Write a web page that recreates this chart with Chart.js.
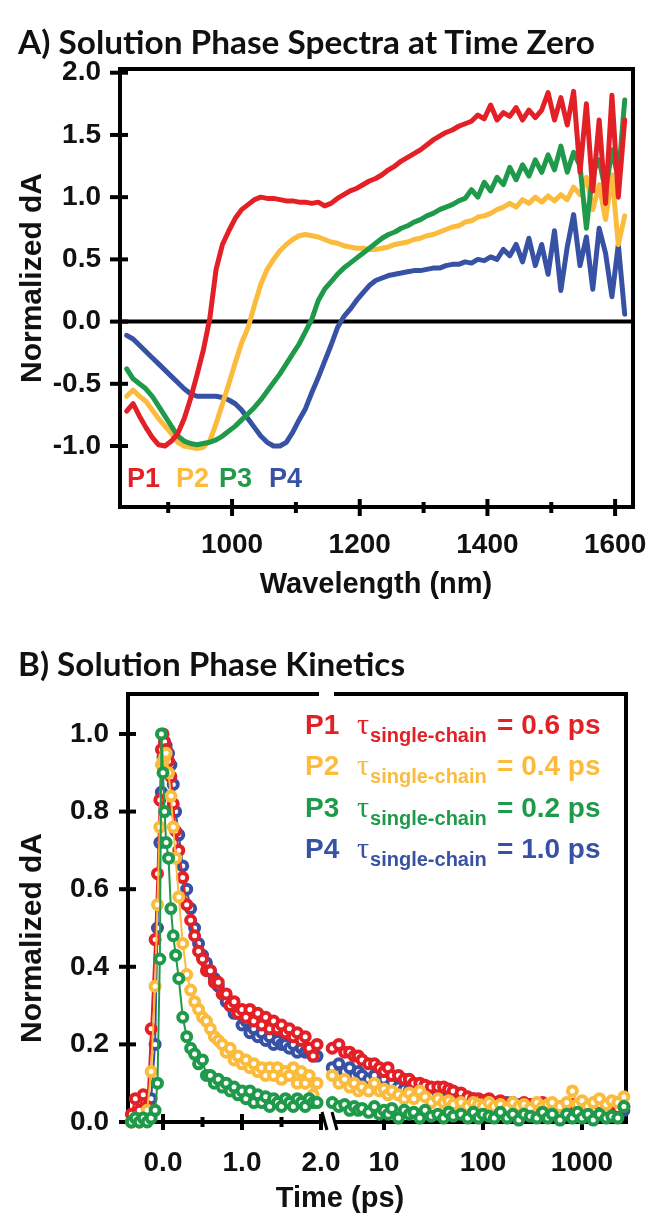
<!DOCTYPE html>
<html><head><meta charset="utf-8">
<script src="https://cdn.jsdelivr.net/npm/chart.js@4.4.1/dist/chart.umd.min.js"></script>
<style>
html,body{margin:0;padding:0;background:#fff;}
#wrap{position:relative;width:651px;height:1214px;overflow:hidden;background:#fff;}
canvas{position:absolute;}
.t{position:absolute;white-space:nowrap;line-height:1;}
.title{font-family:Lato,'Open Sans',sans-serif;font-weight:700;font-size:32px;color:#111;transform-origin:0 0;}
.ax{font-family:'Liberation Sans',Arial,sans-serif;font-weight:700;color:#111;}
.leg{font-family:'Liberation Sans',Arial,sans-serif;font-weight:700;font-size:28px;}
.lp{display:inline-block;width:52px;}
.tg{display:inline-block;width:140px;}
.tau{font-family:'Liberation Serif','DejaVu Serif',serif;font-weight:400;font-size:30px;}
.sub{font-size:20px;position:relative;top:8px;margin-left:1px;}
</style></head><body>
<div id="wrap">
<canvas id="cA" width="651" height="620" style="left:0;top:0"></canvas>
<canvas id="cB1" width="350" height="614" style="left:0;top:600px"></canvas>
<canvas id="cB2" width="351" height="614" style="left:300px;top:600px"></canvas>
<div id="tA" class="t title" style="left:18px;top:26px">A) Solution Phase Spectra at Time Zero</div>
<div id="tB" class="t title" style="left:18px;top:648px">B) Solution Phase Kinetics</div>
<div class="t ax" style="font-size:30px;left:31px;top:278px;transform:translate(-50%,-50%) rotate(-90deg);">Normalized dA</div>
<div class="t ax" style="font-size:30px;left:31px;top:938px;transform:translate(-50%,-50%) rotate(-90deg);">Normalized dA</div>
<div class="t ax" style="font-size:29px;left:376px;top:569px;transform:translateX(-50%);">Wavelength (nm)</div>
<div class="t ax" style="font-size:29px;left:340px;top:1183px;transform:translateX(-50%);">Time (ps)</div>
</div>
<script>
// ---------- Panel A data ----------
const wavelengths = [835,845,855,865,875,885,895,905,915,925,
  935,945,955,965,975,985,995,1005,1015,1025,
  1035,1045,1055,1065,1075,1085,1095,1105,1115,1125,
  1135,1145,1155,1165,1175,1185,1195,1205,1215,1225,
  1235,1245,1255,1265,1275,1285,1295,1305,1315,1325,
  1335,1345,1355,1365,1375,1385,1395,1405,1415,1425,
  1435,1445,1455,1465,1475,1485,1495,1505,1515,1525,
  1535,1545,1555,1565,1575,1585,1595,1605,1615];
const specP1 = [-0.72,-0.66,-0.76,-0.85,-0.93,-0.99,-1.0,-0.96,-0.9,-0.78,
  -0.62,-0.43,-0.23,0.02,0.42,0.62,0.73,0.83,0.9,0.94,
  0.98,1.0,0.99,0.99,0.98,0.97,0.97,0.96,0.96,0.95,
  0.96,0.93,0.95,0.99,1.02,1.05,1.07,1.1,1.13,1.15,
  1.18,1.22,1.25,1.29,1.32,1.35,1.38,1.42,1.46,1.49,
  1.52,1.54,1.57,1.59,1.61,1.66,1.63,1.74,1.62,1.68,
  1.65,1.72,1.62,1.7,1.64,1.7,1.84,1.62,1.8,1.58,
  1.85,1.2,1.75,1.05,1.62,0.95,1.82,1.0,1.62];
const specP2 = [-0.6,-0.55,-0.6,-0.64,-0.71,-0.78,-0.84,-0.9,-0.97,-1.0,
  -1.01,-1.02,-1.01,-0.96,-0.82,-0.66,-0.5,-0.33,-0.17,-0.05,
  0.13,0.3,0.42,0.5,0.57,0.62,0.66,0.69,0.7,0.69,
  0.68,0.66,0.64,0.63,0.61,0.6,0.59,0.59,0.58,0.58,
  0.59,0.6,0.62,0.63,0.64,0.66,0.67,0.69,0.7,0.72,
  0.74,0.76,0.77,0.8,0.81,0.84,0.85,0.87,0.9,0.92,
  0.95,0.92,0.98,0.95,1.0,0.96,1.01,0.97,1.02,0.98,
  1.08,1.02,1.16,0.9,1.1,0.82,1.18,0.62,0.85];
const specP3 = [-0.38,-0.46,-0.5,-0.54,-0.6,-0.68,-0.76,-0.84,-0.92,-0.96,
  -0.98,-0.99,-0.98,-0.97,-0.95,-0.92,-0.88,-0.84,-0.79,-0.74,
  -0.69,-0.63,-0.56,-0.49,-0.42,-0.34,-0.26,-0.18,-0.08,0.02,
  0.17,0.26,0.32,0.38,0.43,0.47,0.51,0.55,0.59,0.63,
  0.67,0.7,0.72,0.75,0.77,0.8,0.82,0.85,0.87,0.9,
  0.92,0.94,0.97,0.99,1.06,1.0,1.12,1.05,1.16,1.1,
  1.24,1.14,1.26,1.17,1.3,1.2,1.34,1.22,1.41,1.2,
  1.36,1.25,0.75,1.2,1.3,1.05,1.38,1.15,1.78];
const specP4 = [-0.11,-0.14,-0.19,-0.24,-0.29,-0.34,-0.39,-0.44,-0.49,-0.54,
  -0.58,-0.6,-0.6,-0.6,-0.6,-0.61,-0.63,-0.66,-0.71,-0.78,
  -0.85,-0.92,-0.97,-1.0,-1.0,-0.97,-0.89,-0.79,-0.7,-0.57,
  -0.45,-0.32,-0.19,-0.05,0.04,0.1,0.17,0.23,0.29,0.33,
  0.35,0.37,0.38,0.39,0.4,0.41,0.41,0.42,0.43,0.43,
  0.45,0.46,0.46,0.48,0.47,0.5,0.49,0.52,0.5,0.58,
  0.53,0.62,0.48,0.67,0.45,0.62,0.38,0.73,0.25,0.6,
  0.86,0.45,0.68,0.26,0.75,0.55,0.2,0.62,0.06];
const xTicksA = [1000,1200,1400,1600];
const xMinorA = [900,1100,1300,1500];
const yTicksA = [-1.0,-0.5,0.0,0.5,1.0,1.5,2.0];
const seriesNames = ['P1','P2','P3','P4'];

// ---------- Panel B data ----------
const tLin = [-0.4,-0.35,-0.3,-0.25,-0.2,-0.15,-0.1,-0.07,-0.04,-0.02,0,0.02,0.04,0.07,0.1,0.13,0.16,0.2,
  0.25,0.3,0.35,0.4,0.45,0.5,0.55,0.6,0.65,0.7,0.75,0.8,0.85,0.9,0.95,1.0,1.05,1.1,1.15,1.2,1.25,1.3,1.35,1.4,1.45,1.5,1.55,1.6,1.65,1.7,1.75,1.8,1.85,1.9,1.95];
const kinP1Lin = [0.02,0.06,0.03,0.07,0.04,0.24,0.47,0.64,0.83,0.96,1.0,0.98,0.96,0.93,0.89,0.82,0.75,0.7,
  0.63,0.56,0.52,0.48,0.44,0.42,0.39,0.39,0.36,0.36,0.33,0.33,0.3,0.31,0.28,0.29,0.27,0.29,0.26,0.28,0.25,0.27,0.24,0.26,0.24,0.25,0.23,0.24,0.22,0.23,0.21,0.22,0.19,0.17,0.2];
const kinP2Lin = [0.0,0.01,0.0,0.01,0.03,0.13,0.35,0.56,0.76,0.92,0.93,0.94,0.95,0.9,0.84,0.76,0.68,0.58,
  0.46,0.38,0.34,0.31,0.29,0.27,0.26,0.24,0.22,0.21,0.2,0.18,0.19,0.16,0.17,0.15,0.16,0.14,0.15,0.13,0.14,0.12,0.14,0.12,0.14,0.11,0.13,0.12,0.14,0.1,0.13,0.1,0.12,0.07,0.1];
const kinP3Lin = [0.0,0.01,0.0,0.01,0.0,0.01,0.03,0.1,0.42,1.0,0.9,0.8,0.72,0.68,0.55,0.48,0.43,0.37,
  0.27,0.22,0.19,0.175,0.15,0.16,0.12,0.12,0.1,0.11,0.09,0.1,0.08,0.09,0.07,0.08,0.06,0.08,0.05,0.07,0.05,0.065,0.04,0.06,0.05,0.04,0.06,0.05,0.04,0.06,0.05,0.04,0.06,0.05,0.05];
const kinP4Lin = [0.0,0.01,0.0,0.02,0.01,0.06,0.2,0.5,0.72,0.85,0.94,0.98,0.97,0.95,0.92,0.87,0.8,0.74,
  0.66,0.6,0.55,0.5,0.46,0.43,0.41,0.39,0.37,0.35,0.33,0.31,0.3,0.28,0.28,0.25,0.26,0.23,0.24,0.22,0.23,0.21,0.22,0.2,0.21,0.2,0.2,0.19,0.2,0.18,0.19,0.18,0.18,0.17,0.17];
const tLog = [3,3.5,4,4.5,5,5.5,6,7,8,9,10,11,12,14,16,18,20,23,26,30,35,40,45,50,60,70,80,90,100,
  115,130,150,175,200,230,260,300,350,400,450,500,600,700,800,900,1000,1150,1300,1500,1750,2000,2300,2650];
const kinP1Log = [0.19,0.2,0.18,0.18,0.17,0.17,0.16,0.15,0.15,0.14,0.13,0.14,0.12,0.12,0.11,0.11,0.1,0.1,0.095,0.09,0.09,0.09,0.085,0.08,0.075,0.065,0.06,0.06,0.055,
  0.06,0.05,0.055,0.045,0.05,0.04,0.05,0.045,0.04,0.05,0.04,0.045,0.04,0.035,0.045,0.04,0.03,0.04,0.035,0.045,0.03,0.04,0.035,0.04];
const kinP2Log = [0.12,0.1,0.11,0.09,0.1,0.08,0.09,0.08,0.1,0.08,0.085,0.07,0.08,0.07,0.06,0.075,0.06,0.08,0.065,0.05,0.06,0.05,0.055,0.045,0.05,0.04,0.05,0.045,0.04,
  0.05,0.04,0.045,0.035,0.05,0.04,0.045,0.035,0.05,0.04,0.045,0.05,0.04,0.05,0.08,0.045,0.055,0.04,0.05,0.06,0.045,0.055,0.05,0.065];
const kinP3Log = [0.05,0.04,0.045,0.03,0.04,0.03,0.035,0.025,0.04,0.02,0.03,0.02,0.035,0.01,0.03,0.02,0.025,0.01,0.03,0.015,0.02,0.01,0.025,0.015,0.02,0.01,0.025,0.01,0.02,
  0.015,0.01,0.025,0.01,0.02,0.005,0.02,0.015,0.01,0.025,0.01,0.02,0.005,0.02,0.01,0.025,0.01,0.02,0.005,0.02,0.01,0.015,0.01,0.04];
const kinP4Log = [0.14,0.15,0.13,0.14,0.12,0.13,0.12,0.11,0.12,0.1,0.11,0.09,0.1,0.09,0.085,0.08,0.09,0.075,0.08,0.07,0.075,0.065,0.07,0.06,0.065,0.055,0.06,0.05,0.055,
  0.045,0.05,0.04,0.05,0.04,0.045,0.035,0.045,0.04,0.035,0.045,0.03,0.04,0.035,0.03,0.04,0.035,0.03,0.04,0.03,0.035,0.03,0.04,0.03];
const tauSingleChain = [0.6,0.4,0.2,1.0];
const yTicksB = [0.0,0.2,0.4,0.6,0.8,1.0];
const xTicksBLin = [0.0,1.0,2.0];
const xMinorBLin = [0.5,1.5];
const xTicksBLog = [10,100,1000];

// ---------- styling ----------
const COLORS = {P1:'#e42027', P2:'#fbbb3d', P3:'#1f9a4a', P4:'#3752a4'};
const FONT = "'Liberation Sans', Arial, sans-serif";
const tickFont = {family: FONT, size: 28, weight: 'bold'};

function seg(ctx,x1,y1,x2,y2){ctx.beginPath();ctx.moveTo(x1,y1);ctx.lineTo(x2,y2);ctx.stroke();}

const frameA = {id:'frameA', beforeDatasetsDraw(chart){
  const {ctx, chartArea:a, scales:{x,y}} = chart;
  ctx.save(); ctx.strokeStyle='#000'; ctx.lineWidth=4;
  ctx.strokeRect(a.left, a.top, a.right-a.left, a.bottom-a.top);
  const y0 = y.getPixelForValue(0); seg(ctx,a.left,y0,a.right,y0);
  xTicksA.forEach(v=>{const p=x.getPixelForValue(v); seg(ctx,p,a.bottom-8,p,a.bottom+9);});
  xMinorA.forEach(v=>{const p=x.getPixelForValue(v); seg(ctx,p,a.bottom-5,p,a.bottom+6);});
  yTicksA.forEach(v=>{const p=y.getPixelForValue(v); seg(ctx,a.left-10,p,a.left+8,p);});
  ctx.restore();
}};
const frameB1 = {id:'frameB1', beforeDatasetsDraw(chart){
  const {ctx, chartArea:a, scales:{x,y}} = chart;
  ctx.save(); ctx.strokeStyle='#000'; ctx.lineWidth=4;
  ctx.beginPath(); ctx.moveTo(a.right-2,a.top); ctx.lineTo(a.left,a.top); ctx.lineTo(a.left,a.bottom); ctx.lineTo(a.right,a.bottom); ctx.stroke();
  yTicksB.forEach(v=>{const p=y.getPixelForValue(v); seg(ctx,a.left-9,p,a.left+8,p);});
  xTicksBLin.forEach(v=>{const p=x.getPixelForValue(v); seg(ctx,p,a.bottom-8,p,a.bottom+8);});
  xMinorBLin.forEach(v=>{const p=x.getPixelForValue(v); seg(ctx,p,a.bottom-5,p,a.bottom+5);});
  ctx.lineWidth=3; seg(ctx,a.right+1,a.bottom-10,a.right+6,a.bottom+8);
  ctx.restore();
}};
const frameB2 = {id:'frameB2', beforeDatasetsDraw(chart){
  const {ctx, chartArea:a, scales:{x}} = chart;
  ctx.save(); ctx.strokeStyle='#000'; ctx.lineWidth=4;
  ctx.beginPath(); ctx.moveTo(a.left+4,a.top); ctx.lineTo(a.right,a.top); ctx.lineTo(a.right,a.bottom); ctx.lineTo(a.left+6,a.bottom); ctx.stroke();
  xTicksBLog.forEach(v=>{const p=x.getPixelForValue(v); seg(ctx,p,a.bottom-8,p,a.bottom+8);});
  ctx.lineWidth=3; seg(ctx,a.left+2,a.bottom-10,a.left+7,a.bottom+8);
  ctx.restore();
}};

function fixedTicks(list){ return s => { s.ticks = list.map(v=>({value:v})); }; }
function fitX(h){ return s => { s.height = h; s.paddingLeft = 0; s.paddingRight = 0; }; }
function fitY(w){ return s => { s.width = w; s.paddingTop = 0; s.paddingBottom = 0; }; }
const baseOpts = {responsive:false, animation:false, devicePixelRatio:1, events:[],
  plugins:{legend:{display:false}, tooltip:{enabled:false}}};

// ---------- Chart A ----------
const specSeries = [specP1, specP2, specP3, specP4];
new Chart(document.getElementById('cA'), {
  type:'line',
  data:{datasets: seriesNames.map((n,i)=>({label:n,
    data: wavelengths.map((w,j)=>({x:w, y:specSeries[i][j]})),
    borderColor: COLORS[n], borderWidth:5, pointRadius:0, tension:0,
    borderJoinStyle:'round', borderCapStyle:'round', order: [0,2,1,3][i]}))},
  options:Object.assign({}, baseOpts, {
    layout:{padding:{top:69,right:18,bottom:53,left:0}},
    scales:{
      x:{type:'linear', min:824.5, max:1628, grid:{display:false,drawTicks:false}, border:{display:false},
         afterBuildTicks: fixedTicks(xTicksA), afterFit: fitX(60),
         ticks:{font:tickFont, color:'#111', padding:21, maxRotation:0, autoSkip:false, callback:v=>String(v)}},
      y:{type:'linear', min:-1.49, max:2.03, grid:{display:false,drawTicks:false}, border:{display:false},
         afterBuildTicks: fixedTicks(yTicksA), afterFit: fitY(120),
         ticks:{font:tickFont, color:'#111', padding:19, autoSkip:false, callback:v=>Number(v).toFixed(1)}}
    }}),
  plugins:[frameA]
});

// ---------- Chart B ----------
const kinLin = {P1:kinP1Lin, P2:kinP2Lin, P3:kinP3Lin, P4:kinP4Lin};
const kinLog = {P1:kinP1Log, P2:kinP2Log, P3:kinP3Log, P4:kinP4Log};
const drawOrderB = ['P3','P2','P1','P4']; // first = on top
function kinDatasets(times, table){
  return drawOrderB.map(n=>({label:n,
    data: times.map((t,j)=>({x:t, y:table[n][j]})),
    borderColor: COLORS[n], borderWidth:2, tension:0,
    pointRadius:4.5, pointBorderWidth:4, pointBackgroundColor:'#fff', pointBorderColor:COLORS[n],
    clip:false}));
}
function yB(show){ return {type:'linear', display:show, min:0, max:1.103, grid:{display:false,drawTicks:false}, border:{display:false},
  afterBuildTicks: fixedTicks(yTicksB), afterFit: show ? fitY(128) : (s=>{s.width=0;}),
  ticks:{font:tickFont, color:'#111', padding:19, autoSkip:false, callback:v=>Number(v).toFixed(1)}}; }
new Chart(document.getElementById('cB1'), {
  type:'line',
  data:{datasets: kinDatasets(tLin, kinLin)},
  options:Object.assign({}, baseOpts, {
    layout:{padding:{top:94,right:29,bottom:32,left:0}},
    scales:{
      x:{type:'linear', min:-0.443, max:2.0, grid:{display:false,drawTicks:false}, border:{display:false},
         afterBuildTicks: fixedTicks(xTicksBLin), afterFit: fitX(60),
         ticks:{font:tickFont, color:'#111', padding:24, maxRotation:0, autoSkip:false, callback:v=>Number(v).toFixed(1)}},
      y: yB(true)
    }}),
  plugins:[frameB1]
});
new Chart(document.getElementById('cB2'), {
  type:'line',
  data:{datasets: kinDatasets(tLog, kinLog)},
  options:Object.assign({}, baseOpts, {
    layout:{padding:{top:94,right:25,bottom:32,left:30}},
    scales:{
      x:{type:'logarithmic', min:2.849, max:2782, grid:{display:false,drawTicks:false}, border:{display:false},
         afterBuildTicks: fixedTicks(xTicksBLog), afterFit: fitX(60),
         ticks:{font:tickFont, color:'#111', padding:24, maxRotation:0, autoSkip:false, callback:v=>String(v)}},
      y: yB(false)
    }}),
  plugins:[frameB2]
});

// ---------- text overlays ----------
const wrap = document.getElementById('wrap');
const pLabelLeft = [127,176,219,269];
seriesNames.forEach((n,i)=>{
  const d = document.createElement('div');
  d.className='t ax'; d.textContent=n;
  d.style.cssText += `font-size:27px;left:${pLabelLeft[i]}px;top:465px;color:${COLORS[n]};`;
  wrap.appendChild(d);
});
seriesNames.forEach((n,i)=>{
  const d = document.createElement('div');
  d.className='t leg';
  d.style.left='305px'; d.style.top=(709 + i*41.3)+'px'; d.style.color=COLORS[n];
  d.innerHTML = `<span class="lp">${n}</span><span class="tg"><span class="tau">τ</span><span class="sub">single-chain</span></span>= ${tauSingleChain[i].toFixed(1)} ps`;
  wrap.appendChild(d);
});
function fitW(id, w){ const el=document.getElementById(id); const r=el.getBoundingClientRect().width; el.style.transform=`scaleX(${w/r})`; }
fitW('tA', 577); fitW('tB', 387);
</script>
</body></html>
